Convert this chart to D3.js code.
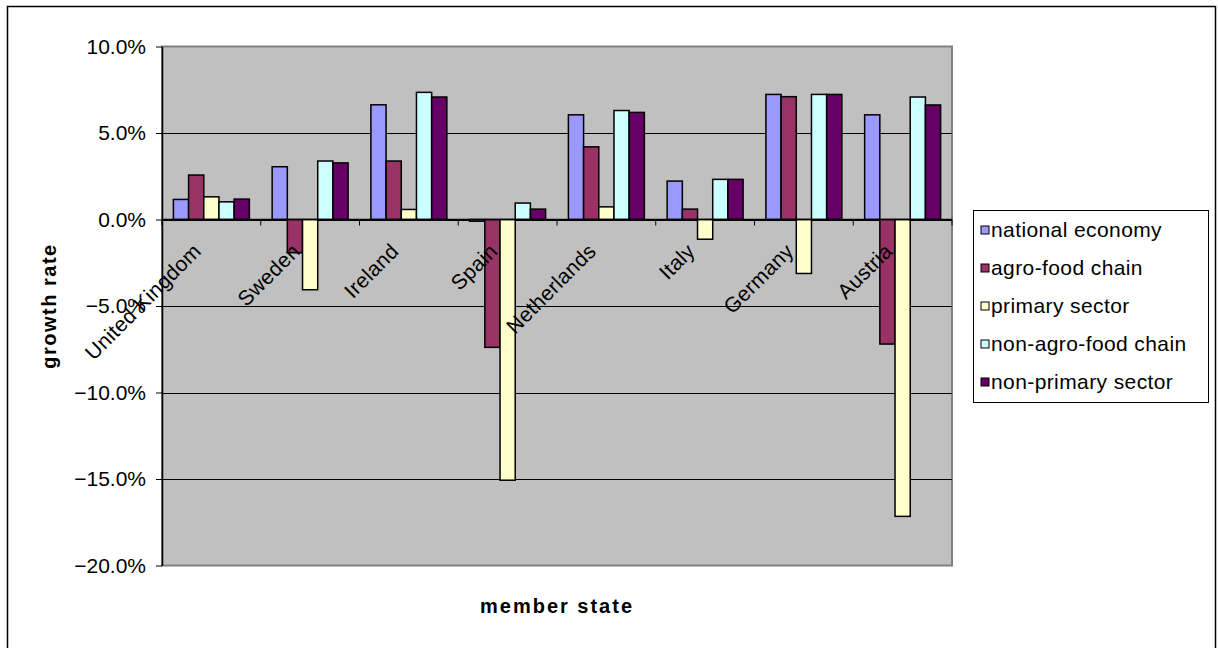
<!DOCTYPE html>
<html>
<head>
<meta charset="utf-8">
<script src="https://cdn.jsdelivr.net/npm/d3@7"></script>
<style>
  html, body { margin: 0; padding: 0; background: #fff; }
  svg { display: block; font-family: "Liberation Sans", Arial, sans-serif; }
</style>
</head>
<body>
<svg id="chart" width="1218" height="648"></svg>
<script>
const categories = ["United Kingdom", "Sweden", "Ireland", "Spain", "Netherlands", "Italy", "Germany", "Austria"];
const seriesNames = ["national economy", "agro-food chain", "primary sector", "non-agro-food chain", "non-primary sector"];
const seriesColors = ["#9999FF", "#993366", "#FFFFCC", "#CCFFFF", "#660066"];
const nationalEconomy  = [0.0116, 0.0305, 0.0663, -0.0010, 0.0605, 0.0222, 0.0723, 0.0605];
const agroFoodChain    = [0.0257, -0.0192, 0.0338, -0.0739, 0.0420, 0.0060, 0.0710, -0.0720];
const primarySector    = [0.0131, -0.0406, 0.0058, -0.1507, 0.0073, -0.0114, -0.0312, -0.1716];
const nonAgroFoodChain = [0.0102, 0.0338, 0.0735, 0.0095, 0.0630, 0.0232, 0.0723, 0.0708];
const nonPrimarySector = [0.0118, 0.0327, 0.0708, 0.0060, 0.0619, 0.0232, 0.0723, 0.0662];
const yTicks = [0.10, 0.05, 0.0, -0.05, -0.10, -0.15, -0.20];

const seriesValues = [nationalEconomy, agroFoodChain, primarySector, nonAgroFoodChain, nonPrimarySector];

const svg = d3.select("#chart");

// outer chart border
svg.append("rect").attr("x", 7.5).attr("y", 6.5).attr("width", 1208).attr("height", 700)
  .attr("fill", "#fff").attr("stroke", "#000").attr("stroke-width", 1.5);

const plot = { left: 162, right: 952, top: 46.5, bottom: 565.5 };

const x0 = d3.scaleBand().domain(categories).range([plot.left, plot.right]).padding(0);
const bw = x0.bandwidth();
const gap = bw * 1.5 / 6.5;
const x1 = d3.scaleBand().domain(d3.range(seriesNames.length)).range([gap / 2, bw - gap / 2]).padding(0);
const y = d3.scaleLinear().domain([-0.20, 0.10]).range([plot.bottom, plot.top]);

// plot area background
svg.append("rect").attr("x", plot.left).attr("y", plot.top)
  .attr("width", plot.right - plot.left).attr("height", plot.bottom - plot.top)
  .attr("fill", "#C0C0C0").attr("stroke", "#808080").attr("stroke-width", 2);

// gridlines
svg.append("g").selectAll("line").data(yTicks.filter(t => t < 0.10 && t > -0.20)).join("line")
  .attr("x1", plot.left).attr("x2", plot.right)
  .attr("y1", d => Math.round(y(d)) + 0.5).attr("y2", d => Math.round(y(d)) + 0.5)
  .attr("stroke", "#000").attr("stroke-width", 1);

// y axis
const yAxis = d3.axisLeft(y).tickValues(yTicks).tickFormat(d3.format(".1%")).tickSizeInner(6).tickSizeOuter(0).tickPadding(10);
const gy = svg.append("g").attr("transform", `translate(${plot.left},0)`).call(yAxis);
gy.select(".domain").attr("stroke", "#000").attr("stroke-width", 1.5);
gy.selectAll(".tick line").attr("stroke", "#000");
gy.selectAll(".tick text").attr("font-size", 21).attr("fill", "#000")
  .attr("font-family", "'Liberation Sans', Arial, sans-serif").text(d => d3.format(".1f")(d * 100) + "%");

// bars
const groups = svg.append("g").selectAll("g").data(categories).join("g")
  .attr("transform", d => `translate(${x0(d)},0)`);
groups.selectAll("rect").data((c, ci) => seriesValues.map((vals, si) => ({ si, v: vals[ci] }))).join("rect")
  .attr("x", d => x1(d.si))
  .attr("width", x1.bandwidth())
  .attr("y", d => y(Math.max(0, d.v)))
  .attr("height", d => Math.max(1, Math.abs(y(d.v) - y(0))))
  .attr("fill", d => seriesColors[d.si])
  .attr("stroke", "#000").attr("stroke-width", 1.5);

// x axis line at 0 with ticks
const y0 = y(0);
svg.append("line").attr("x1", plot.left).attr("x2", plot.right).attr("y1", y0).attr("y2", y0)
  .attr("stroke", "#000").attr("stroke-width", 1.5);
const boundaries = categories.map(c => x0(c)).concat([plot.right]);
svg.append("g").selectAll("line").data(boundaries).join("line")
  .attr("x1", d => d).attr("x2", d => d).attr("y1", y0).attr("y2", y0 + 6)
  .attr("stroke", "#000").attr("stroke-width", 1);

// category labels (rotated)
svg.append("g").selectAll("text").data(categories).join("text")
  .attr("transform", d => `translate(${x0(d) + bw / 2 - 9},${y0 + 33}) rotate(-45)`)
  .attr("text-anchor", "end")
  .attr("font-size", 21).attr("letter-spacing", 0.3).attr("fill", "#000")
  .text(d => d);

// axis titles
svg.append("text")
  .attr("transform", `translate(56,${(plot.top + plot.bottom) / 2}) rotate(-90)`)
  .attr("text-anchor", "middle").attr("font-size", 20).attr("font-weight", "bold")
  .attr("letter-spacing", 1.5).text("growth rate");
svg.append("text")
  .attr("x", (plot.left + plot.right) / 2).attr("y", 613)
  .attr("text-anchor", "middle").attr("font-size", 20).attr("font-weight", "bold")
  .attr("letter-spacing", 2).text("member state");

// legend
const legend = svg.append("g");
legend.append("rect").attr("x", 973.5).attr("y", 210.5).attr("width", 235).attr("height", 192)
  .attr("fill", "#fff").attr("stroke", "#000").attr("stroke-width", 1);
const items = legend.selectAll("g").data(seriesNames).join("g")
  .attr("transform", (d, i) => `translate(981,${230 + i * 38})`);
items.append("rect").attr("x", 0).attr("y", -4).attr("width", 8).attr("height", 8)
  .attr("fill", (d, i) => seriesColors[i]).attr("stroke", "#000").attr("stroke-width", 1);
items.append("text").attr("x", 10).attr("y", 7).attr("font-size", 21).attr("letter-spacing", 0.4)
  .attr("fill", "#000").text(d => d);
</script>
</body>
</html>
